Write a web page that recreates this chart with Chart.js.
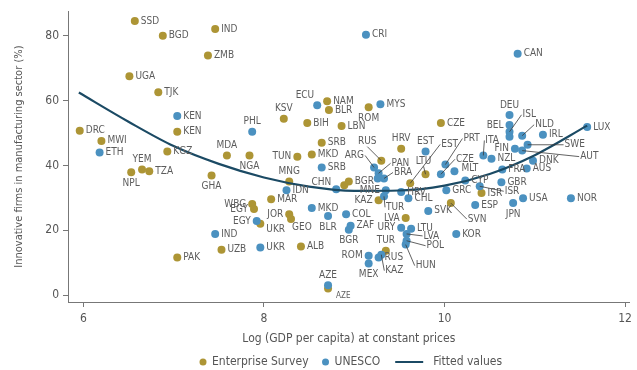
<!DOCTYPE html>
<html>
<head>
<meta charset="utf-8">
<script src="https://cdn.jsdelivr.net/npm/chart.js@4/dist/chart.umd.min.js"></script>
<style>
  html, body { margin: 0; padding: 0; background: #fff; }
  #wrap { width: 637px; height: 370px; position: relative; }
</style>
</head>
<body>
<div id="wrap"><canvas id="chart"></canvas></div>
<script>
// --- Données ---
const xTicks = [6, 8, 10, 12];
const yTicks = [0, 20, 40, 60, 80];

// Enterprise Survey (points dorés)
const esNames = ['SSD', 'BGD', 'IND', 'ZMB', 'UGA', 'TJK', 'KEN', 'DRC', 'MWI', 'KGZ',
  'NPL', 'YEM', 'TZA', 'MDA', 'NGA', 'GHA', 'WBG', 'EGY', 'UZB', 'PAK',
  'UKR', 'JOR', 'GEO', 'MAR', 'ALB', 'KSV', 'NAM', 'BLR', 'ROM', 'BIH',
  'LBN', 'SRB', 'TUN', 'MKD', 'MNG', 'BGR', '', 'RUS', 'HRV', 'LTU',
  'EST', 'KAZ', 'LVA', 'TUR', 'AZE', 'CZE', 'SVN', 'ISR'];
const esX = [6.57, 6.88, 7.46, 7.38, 6.51, 6.83, 7.04, 5.96, 6.20, 6.93,
  6.53, 6.65, 6.73, 7.59, 7.84, 7.42, 7.87, 7.89, 7.53, 7.04,
  7.96, 8.28, 8.30, 8.08, 8.41, 8.22, 8.70, 8.72, 9.16, 8.48,
  8.86, 8.64, 8.37, 8.53, 8.28, 8.94, 8.89, 9.30, 9.52, 9.79,
  9.62, 9.27, 9.57, 9.35, 8.71, 9.96, 10.07, 10.41];
const esY = [84.6, 80.0, 82.1, 73.9, 67.5, 62.6, 50.4, 50.7, 47.6, 44.3,
  37.9, 38.8, 38.2, 43.1, 43.1, 36.9, 28.1, 26.6, 14.0, 11.6,
  22.0, 25.0, 23.5, 29.6, 15.0, 54.4, 59.8, 57.1, 58.0, 53.1,
  52.2, 47.0, 42.7, 43.4, 35.1, 35.1, 33.9, 41.5, 45.2, 37.3,
  34.5, 29.3, 23.8, 13.7, 2.1, 53.1, 28.4, 31.5];

// UNESCO (points bleus)
const unNames = ['CRI', 'CAN', 'KEN', 'ETH', 'PHL', 'ECU', 'MYS', 'EGY', 'IND', 'UKR',
  'SRB', 'IDN', 'CHN', 'ARG', 'PAN', 'BRA', '', 'MNE', 'TUR', 'EST',
  'HRV', 'CHL', 'MKD', 'BLR', 'COL', 'ZAF', 'BGR', 'URY', 'LTU', 'LVA',
  'POL', 'HUN', 'RUS', 'ROM', 'KAZ', 'MEX', 'AZE', 'SVK', 'PRT', 'CZE',
  'MLT', 'CYP', 'ITA', 'NZL', 'FIN', 'DEU', 'BEL', 'ISL', '', 'NLD',
  'IRL', 'LUX', 'SWE', 'AUT', 'DNK', 'AUS', 'FRA', 'GBR', 'ISR', 'GRC',
  'ESP', 'JPN', 'USA', 'NOR', 'KOR'];
const unX = [9.13, 10.81, 7.04, 6.18, 7.87, 8.59, 9.29, 7.92, 7.46, 7.96,
  8.64, 8.25, 8.80, 9.22, 9.27, 9.33, 9.26, 9.35, 9.33, 9.79,
  9.52, 9.60, 8.53, 8.71, 8.91, 8.96, 8.94, 9.52, 9.63, 9.58,
  9.58, 9.57, 9.27, 9.16, 9.30, 9.16, 8.71, 9.82, 10.01, 9.96,
  10.11, 10.23, 10.43, 10.52, 10.78, 10.72, 10.72, 10.72, 10.72, 10.86,
  11.09, 11.58, 10.92, 10.86, 10.98, 10.91, 10.64, 10.63, 10.39, 10.02,
  10.34, 10.76, 10.87, 11.40, 10.13];
const unY = [80.3, 74.5, 55.3, 44.0, 50.4, 58.6, 58.9, 22.9, 18.9, 14.7,
  39.4, 32.4, 32.7, 39.4, 37.6, 36.0, 36.0, 32.4, 30.5, 44.3,
  31.8, 29.9, 26.9, 24.4, 25.0, 21.4, 20.2, 20.8, 20.5, 18.9,
  16.8, 15.6, 11.6, 12.2, 12.5, 9.8, 3.1, 26.0, 40.3, 37.3,
  38.2, 35.4, 43.1, 42.1, 45.2, 55.6, 52.5, 50.4, 48.9, 49.2,
  49.5, 51.9, 46.4, 44.6, 41.5, 39.1, 38.8, 34.8, 33.6, 32.4,
  27.8, 28.4, 29.9, 29.9, 18.9];

// Courbe ajustée
const fitX = [5.95, 6.5, 7, 7.5, 8, 8.5, 9, 9.5, 10, 10.5, 11, 11.58];
const fitY = [62.5, 53.5, 46, 40.5, 36.3, 33.5, 32.2, 32.3, 33.8, 37.4, 43.2, 52.3];

// --- Placement des étiquettes (r par défaut) ---
const labelPlace = {
  'ES:NPL': 'b', 'ES:YEM': 't', 'ES:NGA': 'b', 'ES:GHA': 'b', 'ES:MDA': 't',
  'ES:TUN': 'l', 'ES:ROM': 'b', 'ES:MNG': 't', 'ES:HRV': 't', 'ES:KSV': 't',
  'ES:WBG': 'l', 'ES:EGY': 'l', 'ES:KAZ': 'l', 'ES:JOR': 'l', 'ES:LVA': 'l', 'ES:TUR': 't',
  'ES:RUS': { dx: -14, dy: -19, a: 'center', line: true },
  'ES:LTU': { dx: -2, dy: -13, a: 'center', line: true },
  'ES:EST': { dx: 31, dy: -39, a: 'left', line: true },
  'ES:SVN': { dx: 17, dy: 16, a: 'left', line: true },
  'ES:UKR': { dx: 6, dy: 6, a: 'left' },
  'ES:GEO': { dx: 1, dy: 8, a: 'left' },
  'ES:AZE': { dx: 8, dy: 8, a: 'left', small: true },
  'UN:PHL': 't', 'UN:MNE': 'l', 'UN:EST': 't', 'UN:EGY': 'l', 'UN:FIN': 'l', 'UN:DEU': 't',
  'UN:BEL': 'l', 'UN:JPN': 'b', 'UN:BLR': 'b', 'UN:BGR': 'b', 'UN:URY': 'l', 'UN:ROM': 'l',
  'UN:MEX': 'b', 'UN:AZE': 't',
  'UN:ECU': { dx: -3, dy: -10, a: 'right' },
  'UN:CHN': { dx: -5, dy: -7, a: 'right' },
  'UN:ARG': { dx: -10, dy: -12, a: 'right', line: true },
  'UN:PAN': { dx: 13, dy: -10, a: 'left', line: true },
  'UN:BRA': { dx: 10, dy: -6, a: 'left', line: true },
  'UN:PRT': { dx: 18, dy: -26, a: 'left', line: true },
  'UN:CZE': { dx: 15, dy: -15, a: 'left', line: true },
  'UN:MLT': { dx: 7, dy: -3, a: 'left' },
  'UN:ISR': { dx: 25, dy: 5, a: 'left', line: true },
  'UN:ITA': { dx: 2, dy: -15, a: 'left', line: true },
  'UN:SWE': { dx: 37, dy: 0, a: 'left', line: true },
  'UN:AUT': { dx: 58, dy: 6, a: 'left', line: true },
  'UN:ISL': { dx: 13, dy: -17, a: 'left', line: true },
  'UN:NLD': { dx: 13, dy: -11, a: 'left', line: true },
  'UN:TUR': { dx: 2, dy: 11, a: 'left', line: true },
  'UN:LVA': { dx: 17, dy: 2, a: 'left', line: true },
  'UN:POL': { dx: 20, dy: 5, a: 'left', line: true },
  'UN:HUN': { dx: 10, dy: 21, a: 'left', line: true },
  'UN:KAZ': { dx: 4, dy: 16, a: 'left', line: true }
};

const GOLD = '#ad9535';
const BLUE = '#4b91c0';
const LINE = '#1b4a64';
const TXT = '#555555';
const FAMILY = "'Liberation Sans Narrow', 'DejaVu Sans Condensed', 'Liberation Sans', sans-serif";

const toPoints = (xs, ys) => xs.map((x, i) => ({ x: x, y: ys[i] }));

// --- Plugin : étiquettes des pays ---
const pointLabels = {
  id: 'pointLabels',
  afterDatasetsDraw(chart) {
    const ctx = chart.ctx;
    ctx.save();
    ctx.fillStyle = '#5c5c5c';
    ctx.strokeStyle = '#3a3a3a';
    ctx.lineWidth = 0.8;
    ctx.textBaseline = 'middle';
    chart.data.datasets.forEach((ds, di) => {
      if (!ds.names) return;
      const meta = chart.getDatasetMeta(di);
      meta.data.forEach((pt, i) => {
        const name = ds.names[i];
        if (!name) return;
        const place = labelPlace[ds.key + ':' + name] || 'r';
        let tx = pt.x + 6, ty = pt.y, align = 'left';
        ctx.font = '10px ' + FAMILY;
        if (place === 'l') { tx = pt.x - 6; align = 'right'; }
        else if (place === 't') { tx = pt.x; ty = pt.y - 10; align = 'center'; }
        else if (place === 'b') { tx = pt.x; ty = pt.y + 11; align = 'center'; }
        else if (typeof place === 'object') {
          tx = pt.x + place.dx; ty = pt.y + place.dy; align = place.a;
          if (place.small) ctx.font = '8px ' + FAMILY;
          if (place.line) {
            let ex = tx, ey = ty;
            if (align === 'left') ex = tx - 1;
            if (align === 'right') ex = tx + 1;
            if (align === 'center') ey = ty + (place.dy < 0 ? 5 : -5);
            ctx.beginPath();
            ctx.moveTo(pt.x, pt.y);
            ctx.lineTo(ex, ey);
            ctx.stroke();
          }
        }
        ctx.textAlign = align;
        ctx.fillText(name, tx, ty);
      });
    });
    ctx.restore();
  }
};

// --- Plugin : légende en bas ---
const bottomLegend = {
  id: 'bottomLegend',
  afterDraw(chart) {
    const ctx = chart.ctx;
    const y = 362;
    ctx.save();
    ctx.font = '12px ' + FAMILY;
    ctx.fillStyle = TXT;
    ctx.textBaseline = 'middle';
    ctx.textAlign = 'left';
    const items = chart.data.datasets;
    let x = 203;
    items.forEach(ds => {
      if (ds.type === 'line') {
        ctx.strokeStyle = ds.borderColor;
        ctx.lineWidth = 2;
        ctx.beginPath(); ctx.moveTo(x - 2, y); ctx.lineTo(x + 26, y); ctx.stroke();
        x += 36;
      } else {
        ctx.fillStyle = ds.backgroundColor;
        ctx.beginPath(); ctx.arc(x, y, 3.5, 0, Math.PI * 2); ctx.fill();
        x += 9;
      }
      ctx.fillStyle = TXT;
      ctx.fillText(ds.label, x, y);
      x += ctx.measureText(ds.label).width + 17;
    });
    ctx.restore();
  }
};

const ctx = document.getElementById('chart').getContext('2d');
new Chart(ctx, {
  type: 'scatter',
  data: {
    datasets: [
      {
        label: 'Enterprise Survey', key: 'ES', names: esNames,
        data: toPoints(esX, esY),
        backgroundColor: GOLD, borderWidth: 0, pointRadius: 4, pointHoverRadius: 4, order: 2
      },
      {
        label: 'UNESCO', key: 'UN', names: unNames,
        data: toPoints(unX, unY),
        backgroundColor: BLUE, borderWidth: 0, pointRadius: 4, pointHoverRadius: 4, order: 1
      },
      {
        type: 'line', label: 'Fitted values',
        data: toPoints(fitX, fitY),
        borderColor: LINE, backgroundColor: LINE, borderWidth: 2.2,
        pointRadius: 0, tension: 0.4, cubicInterpolationMode: 'monotone', fill: false, order: 0
      }
    ]
  },
  options: {
    responsive: true,
    maintainAspectRatio: false,
    animation: false,
    layout: { padding: { top: 6, right: 5, bottom: 21, left: 9 } },
    plugins: {
      legend: { display: false },
      tooltip: { enabled: false }
    },
    scales: {
      x: {
        type: 'linear', min: 5.83, max: 12.05,
        afterBuildTicks: s => { s.ticks = xTicks.map(v => ({ value: v })); },
        afterFit: s => { s.height = 47; },
        grid: { display: true, drawOnChartArea: false, tickLength: 5, color: '#777' },
        border: { color: '#777', width: 1 },
        ticks: { color: TXT, font: { family: FAMILY, size: 12 }, padding: 5 },
        title: { display: true, text: 'Log (GDP per capita) at constant prices', color: TXT,
          font: { family: FAMILY, size: 12 }, padding: { top: 2, bottom: 3 } }
      },
      y: {
        type: 'linear', min: -2.1, max: 87.6,
        afterBuildTicks: s => { s.ticks = yTicks.map(v => ({ value: v })); },
        afterFit: s => { s.width = 59; },
        grid: { display: true, drawOnChartArea: false, tickLength: 5, color: '#777' },
        border: { color: '#777', width: 1 },
        ticks: { color: TXT, font: { family: FAMILY, size: 12 }, padding: 4 },
        title: { display: true, text: 'Innovative firms in manufacturing sector (%)', color: TXT,
          font: { family: FAMILY, size: 11 }, padding: { top: 4, bottom: 2 } }
      }
    }
  },
  plugins: [pointLabels, bottomLegend]
});
</script>
</body>
</html>
